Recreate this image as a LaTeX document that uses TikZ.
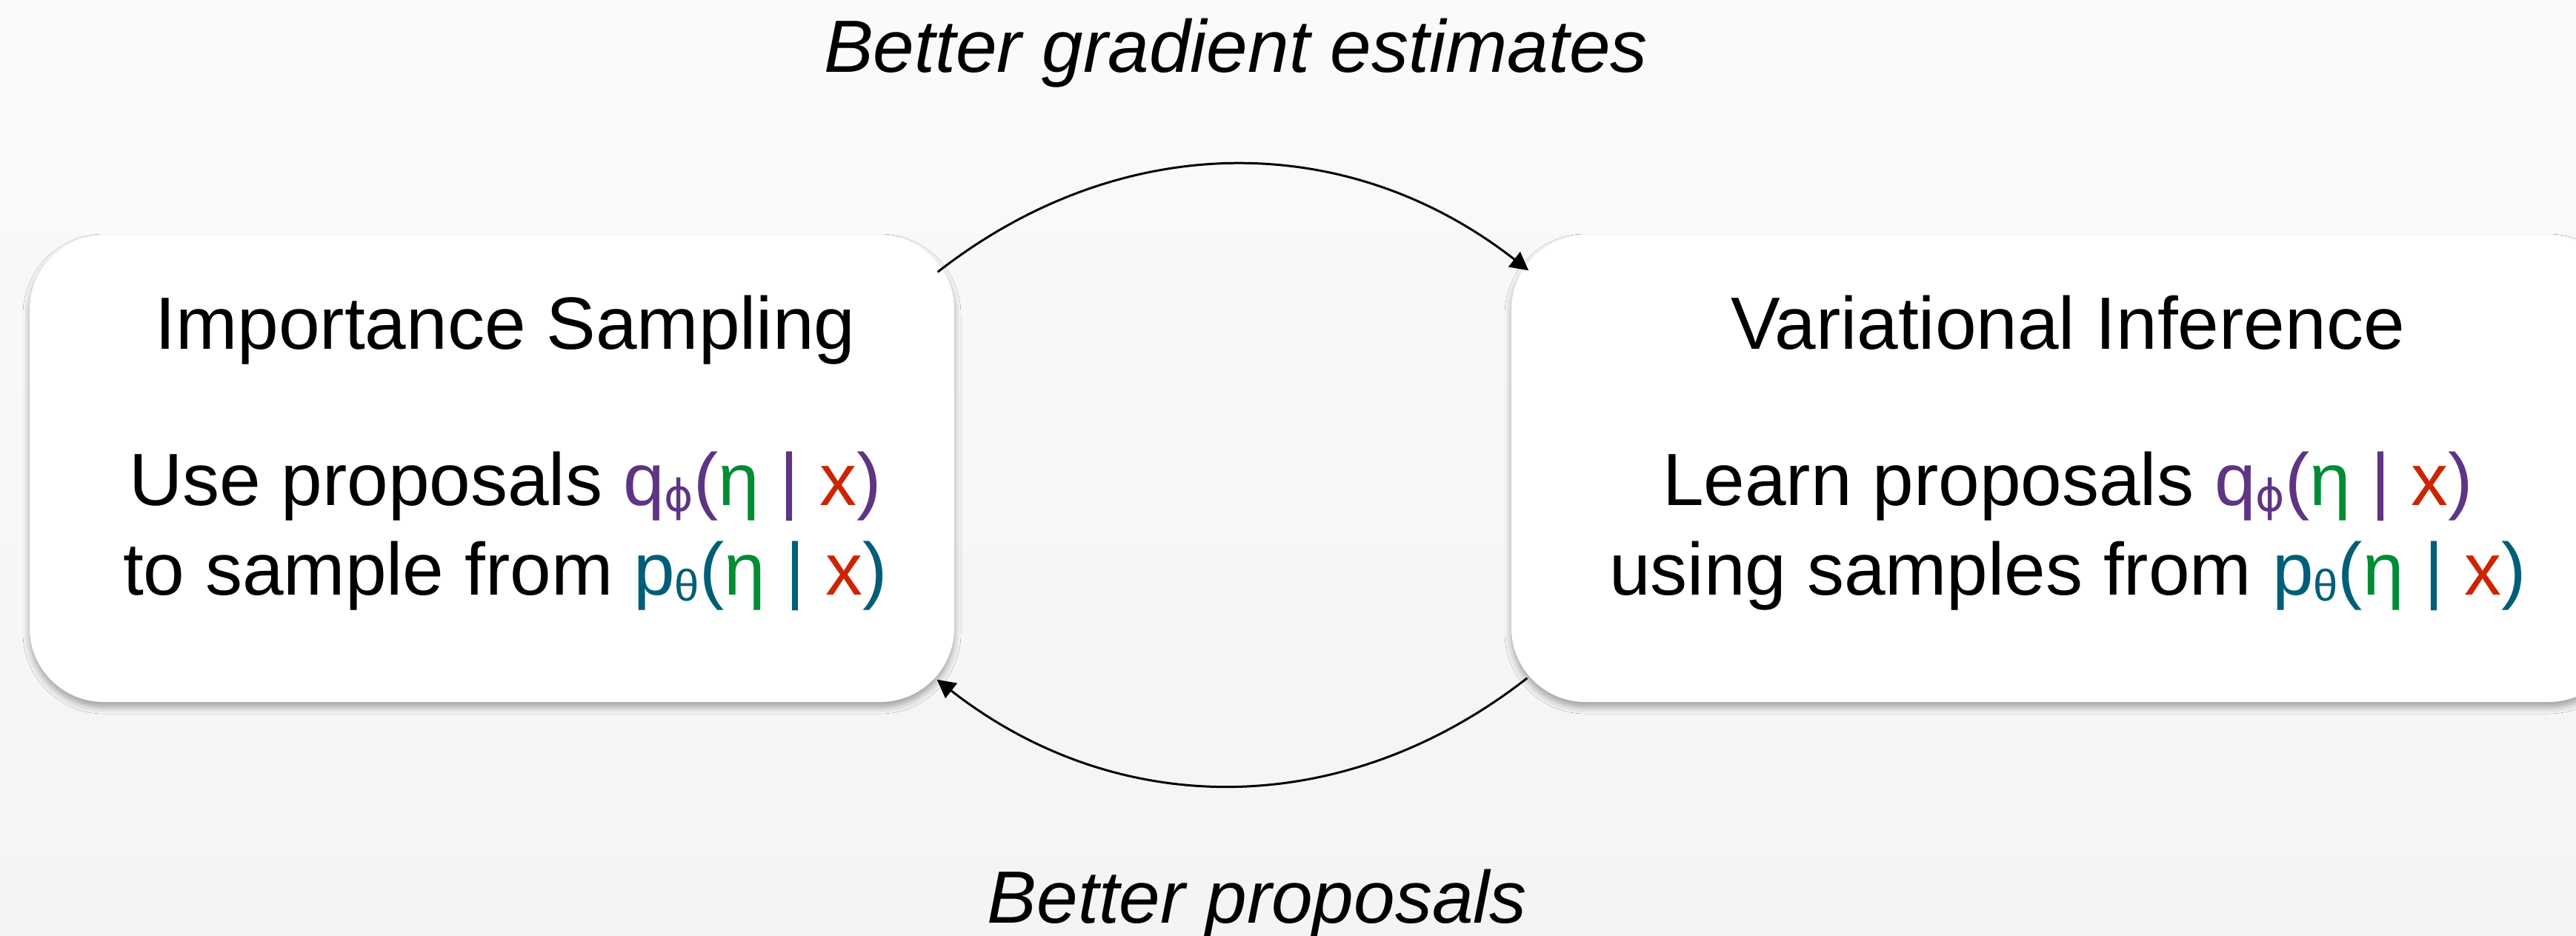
\documentclass[tikz,border=0pt]{standalone}
\usepackage{fontspec}
\setmainfont{Liberation Sans}
\newfontfamily\greekalt{DejaVu Sans}
\usetikzlibrary{arrows.meta,shadows.blur,calc}

\definecolor{qcol}{RGB}{94,53,131}
\definecolor{pcol}{RGB}{0,94,120}
\definecolor{etacol}{RGB}{0,140,52}
\definecolor{xcol}{RGB}{204,36,0}
\definecolor{bgtop}{RGB}{250,250,250}
\definecolor{bgbot}{RGB}{244,244,244}

% lowered, smaller index letter
\newcommand\lowidx[1]{\raisebox{-0.08em}{\fontsize{17}{17}\selectfont #1}}
% q_phi(eta | x) and p_theta(eta | x), coloured by part
\newcommand\qcond{\textcolor{qcol}{q\lowidx{\greekalt ϕ}(}\textcolor{etacol}{η}\textcolor{qcol}{\ |\ }\textcolor{xcol}{x}\textcolor{qcol}{)}}
\newcommand\pcond{\textcolor{pcol}{p\lowidx{θ}(}\textcolor{etacol}{η}\textcolor{pcol}{\ |\ }\textcolor{xcol}{x}\textcolor{pcol}{)}}

\begin{document}
\begin{tikzpicture}[
  panel/.style={fill=white, rounded corners=1cm, inner sep=0pt,
    blur shadow={shadow xshift=0cm, shadow yshift=-0.07cm,
      shadow blur radius=0.09cm, shadow opacity=35}},
  txt/.style={anchor=base, inner sep=0pt, font=\fontsize{28.45}{34}\selectfont},
  lbl/.style={anchor=base, inner sep=0pt, font=\fontsize{28.45}{34}\selectfont\itshape},
  cycle/.style={line width=0.85pt, -{Triangle[length=7pt,width=7.2pt]}},
]
% canvas
\useasboundingbox (0,0) rectangle (34.77,-12.63);
\clip (0,0) rectangle (34.77,-12.63);
\fill[top color=bgtop, bottom color=bgbot] (0,0) rectangle (34.77,-12.63);

% the two panels
\node[panel, minimum width=12.48cm, minimum height=6.30cm] (is) at (6.64,-6.33) {};
\node[panel, minimum width=15.00cm, minimum height=6.30cm] (vi) at (27.90,-6.33) {};

% panel texts
\node[txt] (isTitle) at (6.82,-4.71) {Importance Sampling};
\node[txt] (isLineA) at (6.82,-6.82) {Use proposals \qcond};
\node[txt] (isLineB) at (6.82,-8.03) {to sample from \pcond};
\node[txt] (viTitle) at (27.91,-4.71) {Variational Inference};
\node[txt] (viLineA) at (27.91,-6.82) {Learn proposals \qcond};
\node[txt] (viLineB) at (27.91,-8.03) {using samples from \pcond};

% arrow labels
\node[lbl] (topLbl) at (16.68,-0.97) {Better gradient estimates};
\node[lbl] (botLbl) at (16.97,-12.46) {Better proposals};

% arrow end points on the panel corners
\coordinate (isNE) at ($(is.north east)+(-0.23,-0.50)$);
\coordinate (viNW) at ($(vi.north west)+(0.24,-0.48)$);
\coordinate (viSW) at ($(vi.south west)+(0.22,0.33)$);
\coordinate (isSE) at ($(is.south east)+(-0.24,0.31)$);

\draw[cycle] (isNE) to[out=38,in=142] (viNW);
\draw[cycle] (viSW) to[out=-142,in=-38] (isSE);
\end{tikzpicture}
\end{document}
